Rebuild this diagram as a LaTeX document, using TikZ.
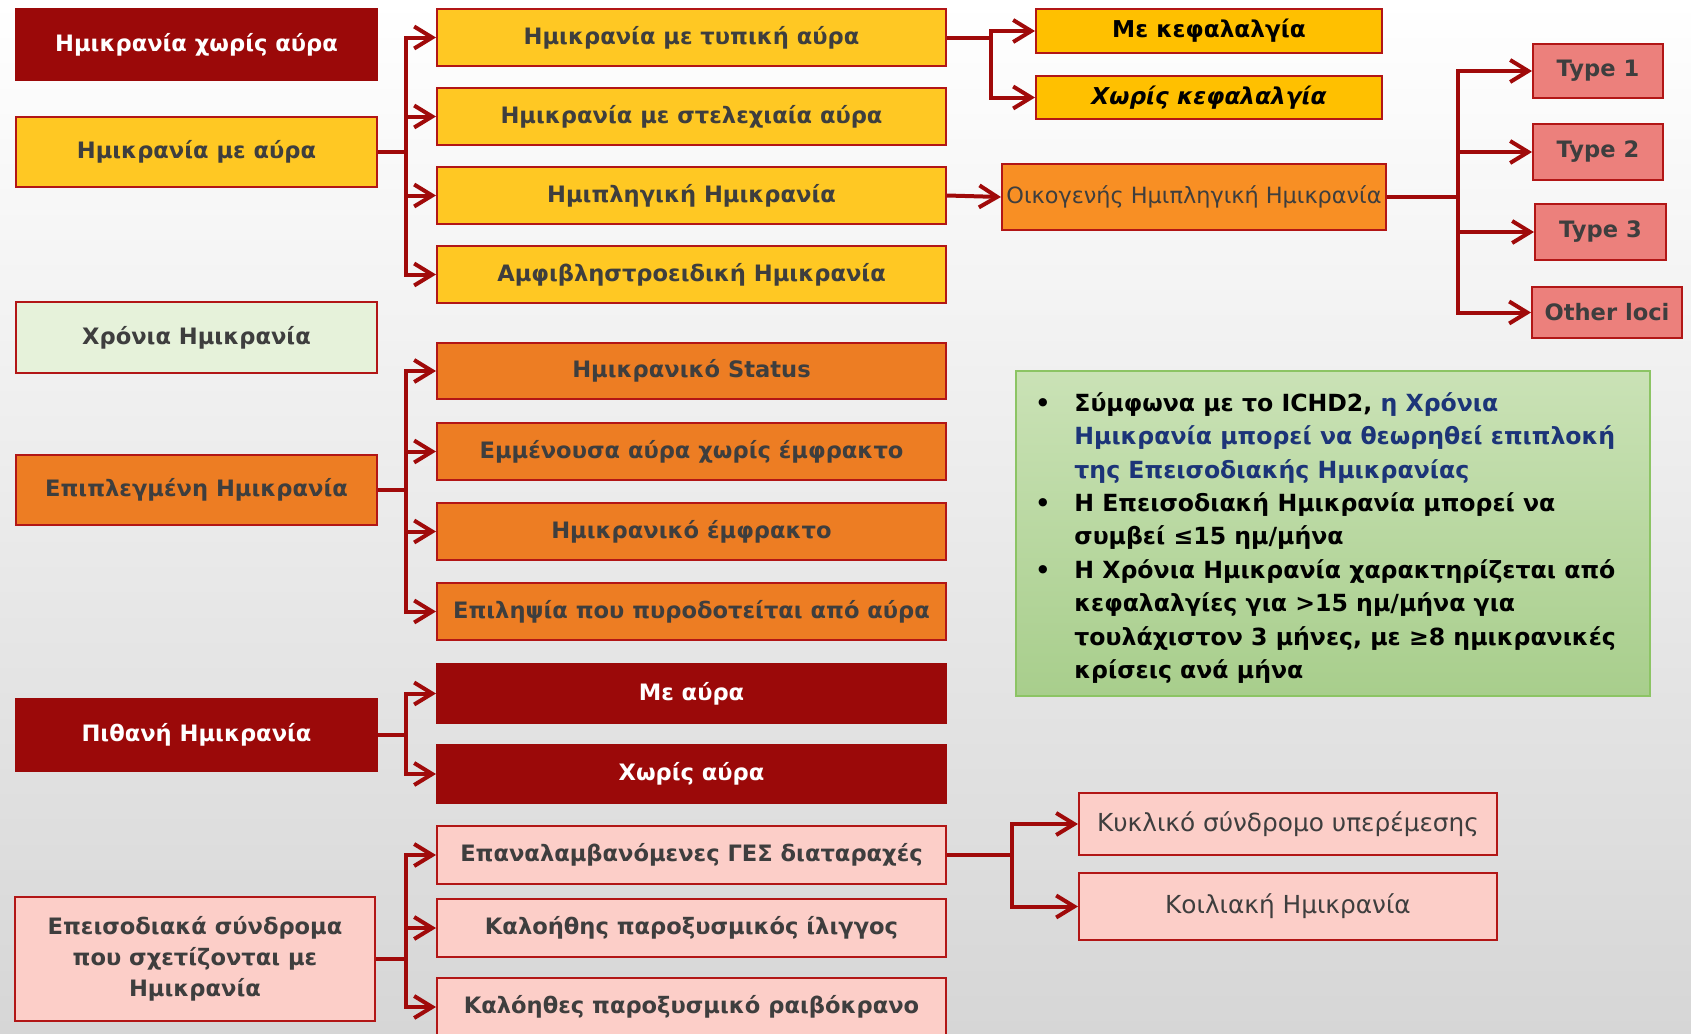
\documentclass[tikz,border=0pt]{standalone}
\usepackage{fontspec}
\setmainfont{DejaVu Sans}
\usetikzlibrary{arrows.meta,calc}
\definecolor{darkred}{RGB}{155,9,9}
\definecolor{bordred}{RGB}{178,22,22}
\definecolor{linered}{RGB}{160,10,10}
\definecolor{yellowbox}{RGB}{255,200,35}
\definecolor{yellowtwo}{RGB}{255,192,0}
\definecolor{orangebox}{RGB}{237,125,35}
\definecolor{orangetwo}{RGB}{248,143,36}
\definecolor{salmon}{RGB}{236,128,124}
\definecolor{pinkbox}{RGB}{252,206,200}
\definecolor{lightgreen}{RGB}{230,242,218}
\definecolor{txtgray}{RGB}{62,62,62}
\definecolor{navy}{RGB}{28,52,120}
\definecolor{greentop}{RGB}{202,226,182}
\definecolor{greenbot}{RGB}{168,206,140}
\definecolor{greenborder}{RGB}{140,196,100}
\definecolor{bgmid}{RGB}{242,242,242}
\definecolor{bgbot}{RGB}{214,214,214}
\newcommand{\mybox}[7]{\node[#1, minimum width={(#4-#2)*0.5pt}, minimum height={(#5-#3)*0.5pt}] (#6) at ({(#2+#4)/2},{(#3+#5)/2}) {#7};}
\begin{document}
\begin{tikzpicture}[x=0.5pt,y=-0.5pt,
  box/.style={draw=bordred, line width=1pt, inner sep=1pt, align=center,
    font=\bfseries\fontsize{11.3}{15.5}\selectfont, text=txtgray},
  dk/.style={box, fill=darkred, draw=darkred, text=white},
  yl/.style={box, fill=yellowbox},
  yltwo/.style={box, fill=yellowtwo, text=black, font=\bfseries\fontsize{11.6}{14}\selectfont},
  og/.style={box, fill=orangebox},
  ogtwo/.style={box, fill=orangetwo, font=\fontsize{11.2}{13}\selectfont},
  sm/.style={box, fill=salmon},
  pk/.style={box, fill=pinkbox},
  pkreg/.style={box, fill=pinkbox, font=\fontsize{12.4}{14}\selectfont},
  lg/.style={box, fill=lightgreen},
  link/.style={draw=linered, line width=2pt},
  arr/.style={link, -{Straight Barb[length=9pt,width=11pt]}}
]
\path[use as bounding box] (0,0) rectangle (1691,1033);
\fill[top color=white, middle color=bgmid, bottom color=bgbot] (0,0) rectangle (1691,1033);
\begin{scope}
\clip (0,0) rectangle (1691,1033);
% left column
\mybox{dk}{16}{9}{377}{80}{a1}{Ημικρανία χωρίς αύρα}
\mybox{yl}{16}{117}{377}{187}{a2}{Ημικρανία με αύρα}
\mybox{lg}{16}{302}{377}{373}{a3}{Χρόνια Ημικρανία}
\mybox{og}{16}{455}{377}{525}{a4}{Επιπλεγμένη Ημικρανία}
\mybox{dk}{16}{699}{377}{771}{a5}{Πιθανή Ημικρανία}
\mybox{pk}{15}{897}{375}{1021}{a6}{Επεισοδιακά σύνδρομα\\που σχετίζονται με\\Ημικρανία}
% middle column
\mybox{yl}{437}{9}{946}{66}{b1}{Ημικρανία με τυπική αύρα}
\mybox{yl}{437}{88}{946}{145}{b2}{Ημικρανία με στελεχιαία αύρα}
\mybox{yl}{437}{167}{946}{224}{b3}{Ημιπληγική Ημικρανία}
\mybox{yl}{437}{246}{946}{303}{b4}{Αμφιβληστροειδική Ημικρανία}
\mybox{og}{437}{343}{946}{399}{c1}{Ημικρανικό Status}
\mybox{og}{437}{423}{946}{480}{c2}{Εμμένουσα αύρα χωρίς έμφρακτο}
\mybox{og}{437}{503}{946}{560}{c3}{Ημικρανικό έμφρακτο}
\mybox{og}{437}{583}{946}{640}{c4}{Επιληψία που πυροδοτείται από αύρα}
\mybox{dk}{437}{664}{946}{723}{d1}{Με αύρα}
\mybox{dk}{437}{745}{946}{803}{d2}{Χωρίς αύρα}
\mybox{pk}{437}{826}{946}{884}{e1}{Επαναλαμβανόμενες ΓΕΣ διαταραχές}
\mybox{pk}{437}{899}{946}{957}{e2}{Καλοήθης παροξυσμικός ίλιγγος}
\mybox{pk}{437}{978}{946}{1036}{e3}{Καλόηθες παροξυσμικό ραιβόκρανο}
% right
\mybox{yltwo}{1036}{9}{1382}{53}{f1}{Με κεφαλαλγία}
\mybox{yltwo}{1036}{76}{1382}{119}{f2}{\itshape Χωρίς κεφαλαλγία}
\mybox{ogtwo}{1002}{164}{1386}{230}{g}{Οικογενής Ημιπληγική Ημικρανία}
\mybox{sm}{1533}{44}{1663}{98}{t1}{Type 1}
\mybox{sm}{1533}{124}{1663}{180}{t2}{Type 2}
\mybox{sm}{1535}{204}{1666}{260}{t3}{Type 3}
\mybox{sm}{1532}{287}{1682}{338}{t4}{Other loci}
\mybox{pkreg}{1079}{793}{1497}{855}{k1}{Κυκλικό σύνδρομο υπερέμεσης}
\mybox{pkreg}{1079}{873}{1497}{940}{k2}{Κοιλιακή Ημικρανία}
% note
\node[draw=greenborder, line width=1pt, top color=greentop, bottom color=greenbot,
  minimum width={634*0.5pt}, minimum height={325*0.5pt}] (note) at (1333,533.5) {};
\node[anchor=west, align=left, inner sep=0pt, text=black,
  font=\bfseries\fontsize{11.8}{16.7}\selectfont] (notetext) at (1074,538)
{\llap{•\hspace{12pt}}Σύμφωνα με το ICHD2, \textcolor{navy}{η Χρόνια}\\
\textcolor{navy}{Ημικρανία μπορεί να θεωρηθεί επιπλοκή}\\
\textcolor{navy}{της Επεισοδιακής Ημικρανίας}\\
\llap{•\hspace{12pt}}Η Επεισοδιακή Ημικρανία μπορεί να\\
συμβεί ≤15 ημ/μήνα\\
\llap{•\hspace{12pt}}Η Χρόνια Ημικρανία χαρακτηρίζεται από\\
κεφαλαλγίες για >15 ημ/μήνα  για\\
τουλάχιστον 3 μήνες,  με ≥8 ημικρανικές\\
κρίσεις ανά μήνα};
% connectors
\foreach \c in {b1,b2,b3,b4} \draw[arr] (a2.east) -- ++(28,0) |- (\c.west);
\foreach \c in {c1,c2,c3,c4} \draw[arr] (a4.east) -- ++(28,0) |- (\c.west);
\foreach \c in {d1,d2} \draw[arr] (a5.east) -- ++(28,0) |- (\c.west);
\foreach \c in {e1,e2,e3} \draw[arr] (a6.east) -- ++(30,0) |- (\c.west);
\foreach \c in {f1,f2} \draw[arr] (b1.east) -- ++(44,0) |- (\c.west);
\draw[arr] (b3.east) -- (g.west);
\foreach \c in {t1,t2,t3,t4} \draw[arr] (g.east) -- ++(71,0) |- (\c.west);
\foreach \c in {k1,k2} \draw[arr] (e1.east) -- ++(65,0) |- (\c.west);
\end{scope}
\end{tikzpicture}
\end{document}
